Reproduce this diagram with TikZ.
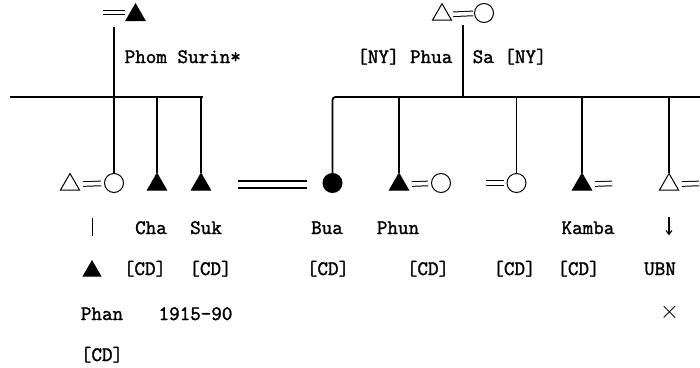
\documentclass[tikz,border=0pt]{standalone}
\usepackage{fontspec}
\newfontfamily\kinfont{Latin Modern Mono}[FakeBold=1.6]
\usepackage{tikz}
\usetikzlibrary{positioning,shapes.geometric,arrows.meta}

\begin{document}
\begin{tikzpicture}[x=1pt,y=-1pt,line width=1.4pt,
    male/.style={draw, regular polygon, regular polygon sides=3, minimum size=22pt, inner sep=0pt, line width=1pt},
    maledead/.style={male, fill=black},
    female/.style={draw, circle, minimum size=19pt, inner sep=0pt, line width=1pt},
    femaledead/.style={female, fill=black},
    wed/.style={double, double distance=3.6pt, line width=1pt, shorten <=13pt, shorten >=13pt},
    lbl/.style={font=\kinfont\fontsize{20.5}{24}\selectfont, inner sep=0pt, anchor=base}]
    \useasboundingbox (0,0) rectangle (700,367);

    \node[maledead] (surin) at (135.5,15) {};
    \coordinate (surinw) at (92,12.5);
    \draw[wed, shorten <=11pt, shorten >=11pt] (surinw) -- (surinw -| surin);
    \coordinate (surind) at (114,27);
    \node[lbl, anchor=base west] (surinlbl) at (124,63) {Phom Surin*};

    \node[male] (phua) at (442,14.7) {};
    \node[female] (sa) at (484,13) {};
    \draw[wed, shorten <=11pt, shorten >=11pt] (phua.center) -- (sa.center);
    \coordinate (phuad) at (463,25);
    \node[lbl, anchor=base east] (phualbl) at (453,63) {[NY] Phua};
    \node[lbl, anchor=base west] (salbl) at (472,63) {Sa [NY]};

    \coordinate (barLa) at (10,97);
    \coordinate (barLb) at (203,97);
    \coordinate (barR) at (463,97);
    \coordinate (barRb) at (700,97);
    \draw (barLa) -- (barLb);
    \draw[line width=1.8pt] (phuad) -- (barR);

    \node[male] (m1) at (70,184.5) {};
    \node[female] (f1) at (114,183) {};
    \draw[wed] (m1.center) -- (f1.center);
    \coordinate (wedA) at (92,183);
    \node[maledead] (cha) at (157,184.5) {};
    \node[maledead] (suk) at (201,184.5) {};
    \node[femaledead] (bua) at (332.5,183) {};
    \draw[double, double distance=4.5pt, line width=1.8pt, shorten <=37pt, shorten >=25.5pt] (suk.center) -- (suk.center -| bua);
    \node[maledead] (phun) at (399,184.5) {};
    \node[female] (phunw) at (441,183) {};
    \draw[wed] (phun.center) -- (phunw.center);
    \node[female] (f5) at (516.5,183) {};
    \coordinate (f5h) at (473,183);
    \draw[wed] (f5h) -- (f5.center);
    \node[maledead] (kamba) at (582,184.5) {};
    \coordinate (kambaw) at (625,183);
    \draw[wed] (kamba.center) -- (kambaw);
    \node[male] (m8) at (669,184.5) {};
    \coordinate (m8w) at (712,183);
    \draw[wed] (m8.center) -- (m8w);

    \draw[line width=1.8pt] (surind) -- (f1.north);
    \draw[line width=1.8pt] (cha |- barLa) -- (cha.north);
    \draw[line width=1.8pt] (suk |- barLa) -- (suk.north);
    \draw[line width=1.8pt, rounded corners=3pt] (bua.north) |- (barRb);
    \draw[line width=1.8pt] (phun |- barRb) -- (phun.north);
    \draw[line width=1.8pt] (f5 |- barRb) -- (f5.north);
    \draw[line width=1.8pt] (kamba |- barRb) -- (kamba.north);
    \draw[line width=1.8pt] (m8 |- barRb) -- (m8.north);

    \node[lbl] (chalbl) at (151,234) {Cha};
    \node[lbl] (suklbl) at (206,234) {Suk};
    \node[lbl] (bualbl) at (327,234) {Bua};
    \node[lbl] (phunlbl) at (398,234) {Phun};
    \node[lbl] (kambalbl) at (588,234) {Kamba};

    \node[maledead, minimum size=20pt] (phan) at (92,271) {};
    \draw[line width=1pt, shorten <=35pt, shorten >=24pt] (wedA) -- (phan.north);
    \node[lbl] (cd1) at (145,275) {[CD]};
    \node[lbl] (cd2) at (210.5,275) {[CD]};
    \node[lbl] (cd3) at (328,275) {[CD]};
    \node[lbl] (cd4) at (428,275) {[CD]};
    \node[lbl] (cd5) at (514.5,275) {[CD]};
    \node[lbl] (cd6) at (578.5,275) {[CD]};
    \node[lbl] (ubn) at (660,275) {UBN};
    \draw[-{Straight Barb[length=4pt,width=6pt]}, line width=1.1pt, shorten <=32.5pt, shorten >=33.5pt] (m8.center) -- (m8 |- ubn);

    \node[lbl] (phanlbl) at (102,320) {Phan};
    \node[lbl] (years) at (195.5,320) {1915-90};
    \node[inner sep=0pt, font=\fontsize{27}{30}\selectfont] (cross) at (669.5,312) {$\times$};
    \node[lbl] (cd7) at (102,361) {[CD]};
\end{tikzpicture}
\end{document}
